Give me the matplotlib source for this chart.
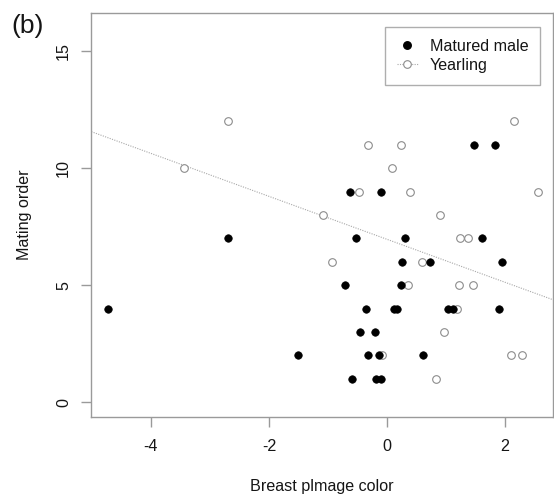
import numpy as np
import matplotlib.pyplot as plt
from matplotlib.lines import Line2D

plt.rcParams['font.family'] = ['Liberation Sans', 'DejaVu Sans']

# matured males: breast plumage colour score and mating order
mature_x = [-4.72, -0.35, 0.11, 0.17, 1.04, 1.11, 1.90,
            -2.69, -0.52, 0.31, 1.61,
            -1.51, -0.33, -0.13, 0.60,
            -0.63, -0.10,
            1.48, 1.83,
            0.25, 0.73, 1.95,
            -0.72, 0.23,
            -0.46, -0.20,
            -0.59, -0.18, -0.10]
mature_y = [4, 4, 4, 4, 4, 4, 4,
            7, 7, 7, 7,
            2, 2, 2, 2,
            9, 9,
            11, 11,
            6, 6, 6,
            5, 5,
            3, 3,
            1, 1, 1]

# yearlings
year_x = [-2.70, 2.15,
          -3.44, 0.08,
          -0.32, 0.23,
          -0.47, 0.38, 2.56,
          -1.08, 0.90,
          1.24, 1.37,
          -0.93, 0.59,
          0.35, 1.22, 1.45,
          1.18,
          0.96,
          -0.09, 2.10, 2.29,
          0.82]
year_y = [12, 12,
          10, 10,
          11, 11,
          9, 9, 9,
          8, 8,
          7, 7,
          6, 6,
          5, 5, 5,
          4,
          3,
          2, 2, 2,
          1]

# fitted line (intercept, slope)
fit_a = 6.96
fit_b = -0.918

xticks = [-4, -2, 0, 2]
yticks = [0, 5, 10, 15]

axcol = '#9a9a9a'
txtcol = '#151515'
fs = 11.6

fig = plt.figure(figsize=(5.54, 5.0), dpi=100)
ax = fig.add_axes([0.1648, 0.1654, 0.8334, 0.8092])

ax.axline((0, fit_a), slope=fit_b, color='#a8a8a8', lw=0.8, ls=(0, (1, 1.2)), zorder=1)
ax.plot(year_x, year_y, 'o', ms=5.5, mfc='white', mec='#8c8c8c', mew=0.8, ls='none', zorder=2)
ax.plot(mature_x, mature_y, 'o', ms=5.4, mfc='black', mec='black', mew=0.5, ls='none', zorder=3)

ax.set_xlim(-5.01, 2.81)
ax.set_ylim(-0.64, 16.64)
ax.set_xticks(xticks)
ax.set_yticks(yticks)
ax.set_xticklabels([str(t) for t in xticks])
ax.set_yticklabels([str(t) for t in yticks], rotation=90, va='center')

for s in ax.spines.values():
    s.set_color(axcol)
    s.set_linewidth(1.0)
ax.tick_params(axis='both', direction='out', length=7.2, width=1.0, color=axcol,
               labelcolor=txtcol, labelsize=fs)
ax.tick_params(axis='x', pad=8.5)
ax.tick_params(axis='y', pad=7.5)

ax.set_xlabel('Breast plmage color', fontsize=fs, color=txtcol, va='center')
ax.xaxis.set_label_coords(0.5, -0.170)
ax.set_ylabel('Mating order', fontsize=fs, color=txtcol, va='center')
ax.yaxis.set_label_coords(-0.144, 0.5)

handles = [
    Line2D([], [], marker='o', ls='none', ms=5.4, mfc='black', mec='black'),
    Line2D([], [], marker='o', ls=(0, (1, 1.2)), lw=0.8, color='#a8a8a8',
           ms=5.5, mfc='white', mec='#8c8c8c', mew=0.8),
]
leg = ax.legend(handles, ['Matured male', 'Yearling'], loc='upper right',
                bbox_to_anchor=(0.9718, 0.9639), borderaxespad=0, fontsize=fs,
                frameon=True, fancybox=False, edgecolor=axcol, borderpad=0.72,
                handlelength=1.3, handletextpad=0.75, labelspacing=0.25)
leg.get_frame().set_linewidth(1.0)
for t in leg.get_texts():
    t.set_color(txtcol)

fig.text(0.0505, 0.948, '(b)', fontsize=19, color=txtcol, ha='center', va='center')

fig.savefig('out.png', dpi=100)
